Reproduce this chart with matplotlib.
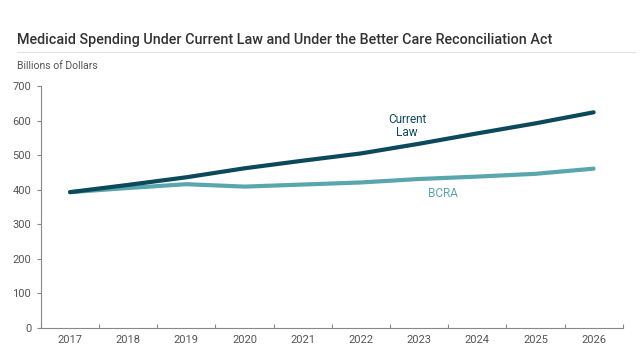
import numpy as np
import matplotlib
matplotlib.use("Agg")
import matplotlib.pyplot as plt
from matplotlib.lines import Line2D

years = ["2017", "2018", "2019", "2020", "2021", "2022", "2023", "2024", "2025", "2026"]
current_law = [393, 414, 436, 462, 484, 505, 533, 563, 592, 624]
bcra = [393, 405, 416, 409, 415, 421, 431, 438, 446, 461]
y_ticks = [0, 100, 200, 300, 400, 500, 600, 700]

DARK = "#0c4a5b"
LIGHT = "#5aa6ad"
GREY = "#555555"

plt.rcParams["font.family"] = ["Roboto", "DejaVu Sans"]

fig = plt.figure(figsize=(6.4, 3.6), dpi=100)
ax = fig.add_axes([0.064, 0.089, 0.909, 0.672])

x = np.arange(len(years))
ax.plot(x, current_law, color=DARK, lw=3.0, solid_capstyle="round", zorder=3)
ax.plot(x, bcra, color=LIGHT, lw=3.0, solid_capstyle="round", zorder=2)

ax.text(5.79, 585, "Current\nLaw", color=DARK, fontsize=8.5, ha="center", va="center",
        linespacing=0.95)
ax.text(6.41, 388, "BCRA", color=LIGHT, fontsize=8.5, ha="center", va="center")

ax.set_xlim(-0.5, 9.5)
ax.set_ylim(0, 700)
ax.set_yticks(y_ticks)
ax.set_yticklabels([str(v) for v in y_ticks], fontsize=8, color=GREY)

# boundary ticks between years, labels at centres
ax.set_xticks(np.arange(-0.5, 10, 1.0))
ax.set_xticklabels([])
ax.set_xticks(x, minor=True)
ax.set_xticklabels(years, minor=True, fontsize=8, color=GREY)
ax.tick_params(axis="x", which="major", direction="in", length=3, color="#888888", width=0.8)
ax.tick_params(axis="x", which="minor", length=0, pad=5)
ax.tick_params(axis="y", length=3, color="#888888", width=0.8, pad=4)

for s in ["top", "right"]:
    ax.spines[s].set_visible(False)
for s in ["left", "bottom"]:
    ax.spines[s].set_color("#888888")
    ax.spines[s].set_linewidth(0.8)

fig.text(0.027, 0.889, "Medicaid Spending Under Current Law and Under the Better Care Reconciliation Act",
         fontsize=10.4, fontweight="medium", color="#333333", ha="left", va="center")
fig.add_artist(Line2D([0.027, 0.992], [0.855, 0.855], color="#e2e2e2", lw=0.8))
fig.text(0.027, 0.817, "Billions of Dollars", fontsize=7.5, color=GREY, ha="left", va="center")

fig.savefig("out.png", dpi=100)
